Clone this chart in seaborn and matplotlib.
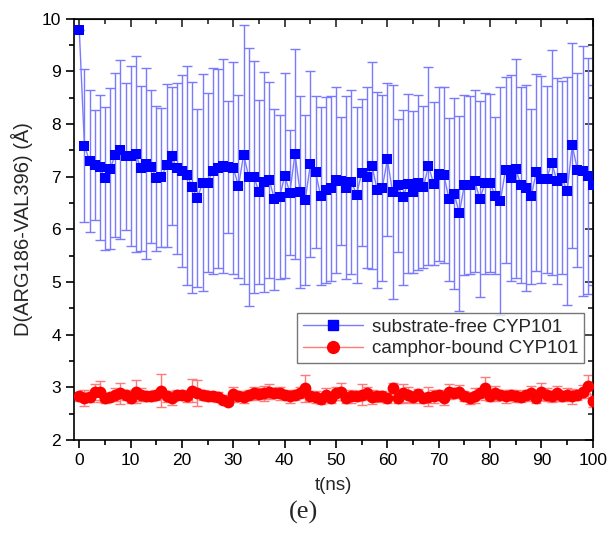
import numpy as np
import pandas as pd
import seaborn as sns
import matplotlib.pyplot as plt
from matplotlib.ticker import MultipleLocator

# time axis (ns), one frame per ns
t_ns = list(range(0, 101))

free_mean = [9.78, 7.59, 7.30, 7.22, 7.18, 6.97, 7.15, 7.42, 7.51, 7.39,
             7.39, 7.43, 7.16, 7.25, 7.19, 6.97, 6.99, 7.22, 7.39, 7.16,
             7.11, 7.03, 6.80, 6.59, 6.89, 6.89, 7.11, 7.16, 7.20, 7.19,
             7.17, 6.82, 7.42, 7.00, 7.00, 6.71, 6.90, 6.94, 6.57, 6.61,
             7.02, 6.70, 7.43, 6.71, 6.56, 7.24, 7.09, 6.64, 6.75, 6.78,
             6.94, 6.92, 6.79, 6.90, 6.66, 7.08, 6.99, 7.21, 6.75, 6.79,
             7.33, 6.71, 6.84, 6.61, 6.87, 6.71, 6.89, 6.80, 7.21, 6.87,
             7.06, 7.04, 6.57, 6.68, 6.31, 6.85, 6.84, 6.92, 6.58, 6.88,
             6.88, 6.64, 6.54, 7.13, 6.98, 7.15, 6.84, 6.79, 6.63, 7.09,
             6.95, 6.95, 7.27, 6.92, 6.98, 6.73, 7.60, 7.13, 7.11, 7.01,
             6.84]
free_err = [0.00, 1.45, 1.35, 1.04, 1.38, 1.36, 1.53, 1.56, 1.70, 1.40,
            1.71, 1.86, 1.57, 1.81, 1.45, 1.37, 1.32, 1.55, 1.31, 1.63,
            1.83, 2.08, 2.00, 1.69, 2.06, 1.70, 1.95, 1.89, 2.03, 1.25,
            2.01, 1.74, 2.46, 2.45, 2.20, 1.74, 2.09, 1.86, 1.72, 1.56,
            1.95, 1.19, 2.00, 1.83, 1.62, 1.77, 1.45, 1.69, 1.76, 1.76,
            1.76, 1.22, 1.74, 1.75, 1.67, 1.39, 1.72, 1.97, 1.86, 1.77,
            1.45, 2.03, 1.26, 1.66, 1.70, 1.54, 1.66, 1.54, 1.88, 1.55,
            1.65, 1.67, 1.54, 1.81, 1.85, 1.71, 1.69, 1.73, 1.86, 1.72,
            1.69, 1.49, 2.16, 1.76, 1.95, 2.08, 1.86, 1.96, 1.66, 1.87,
            1.97, 1.78, 2.14, 1.95, 1.83, 2.17, 1.95, 1.84, 2.37, 2.24,
            1.90]

bound_mean = [2.83, 2.80, 2.82, 2.91, 2.92, 2.80, 2.82, 2.86, 2.89, 2.86,
              2.80, 2.92, 2.86, 2.84, 2.83, 2.86, 2.94, 2.83, 2.80, 2.86,
              2.86, 2.84, 2.94, 2.89, 2.86, 2.84, 2.83, 2.82, 2.77, 2.72,
              2.87, 2.84, 2.82, 2.86, 2.89, 2.88, 2.89, 2.92, 2.89, 2.89,
              2.86, 2.83, 2.86, 2.90, 2.98, 2.84, 2.82, 2.78, 2.86, 2.80,
              2.89, 2.92, 2.80, 2.83, 2.84, 2.86, 2.89, 2.82, 2.83, 2.84,
              2.80, 2.99, 2.80, 2.89, 2.86, 2.82, 2.87, 2.80, 2.82, 2.83,
              2.86, 2.79, 2.92, 2.89, 2.92, 2.84, 2.80, 2.84, 2.89, 2.98,
              2.84, 2.89, 2.86, 2.83, 2.86, 2.84, 2.82, 2.86, 2.89, 2.80,
              2.92, 2.86, 2.83, 2.89, 2.84, 2.86, 2.83, 2.86, 2.92, 3.02,
              2.75]
bound_err = [0.08, 0.15, 0.10, 0.15, 0.20, 0.10, 0.08, 0.12, 0.20, 0.10,
             0.10, 0.22, 0.12, 0.10, 0.08, 0.10, 0.32, 0.10, 0.14, 0.10,
             0.08, 0.12, 0.22, 0.25, 0.10, 0.10, 0.08, 0.10, 0.08, 0.06,
             0.14, 0.10, 0.12, 0.10, 0.12, 0.10, 0.14, 0.14, 0.10, 0.12,
             0.08, 0.12, 0.10, 0.10, 0.26, 0.10, 0.12, 0.10, 0.12, 0.10,
             0.12, 0.16, 0.10, 0.12, 0.10, 0.20, 0.12, 0.14, 0.10, 0.10,
             0.10, 0.10, 0.10, 0.18, 0.14, 0.12, 0.10, 0.10, 0.18, 0.12,
             0.10, 0.12, 0.14, 0.10, 0.12, 0.10, 0.12, 0.14, 0.10, 0.22,
             0.10, 0.14, 0.10, 0.12, 0.10, 0.12, 0.10, 0.10, 0.14, 0.10,
             0.16, 0.12, 0.10, 0.14, 0.10, 0.12, 0.14, 0.10, 0.12, 0.22,
             0.12]

df = pd.DataFrame({"t": t_ns * 2,
                   "D": free_mean + bound_mean,
                   "err": free_err + bound_err,
                   "system": ["substrate-free CYP101"] * len(t_ns) + ["camphor-bound CYP101"] * len(t_ns)})

sns.set_style("ticks")
plt.rcParams['font.family'] = ['Liberation Sans', 'DejaVu Sans']

fig = plt.figure(figsize=(6.08, 5.38), dpi=100)
ax = fig.add_axes([0.122, 0.182, 0.853, 0.783])

colors = {"substrate-free CYP101": "#0000ff", "camphor-bound CYP101": "#ff0000"}
bar_colors = {"substrate-free CYP101": "#7a7aff", "camphor-bound CYP101": "#ff7a7a"}
markers = {"substrate-free CYP101": "s", "camphor-bound CYP101": "o"}
msize = {"substrate-free CYP101": 7, "camphor-bound CYP101": 8.5}

for name in ["substrate-free CYP101", "camphor-bound CYP101"]:
    sub = df[df["system"] == name]
    ax.errorbar(sub["t"], sub["D"], yerr=sub["err"], fmt="none",
                ecolor=bar_colors[name], elinewidth=1, capsize=3.5, capthick=1, zorder=2)
    ax.plot(sub["t"], sub["D"], color=bar_colors[name], lw=1, zorder=3)
    sns.scatterplot(data=sub, x="t", y="D", marker=markers[name], color=colors[name],
                    s=msize[name] ** 2, edgecolor=colors[name], linewidth=0, ax=ax, zorder=4)

# legend handles: line with marker
handles = [plt.Line2D([], [], color=bar_colors[n], lw=1, marker=markers[n], markersize=msize[n],
                      markerfacecolor=colors[n], markeredgecolor=colors[n]) for n in colors]
leg = ax.legend(handles, list(colors), loc="upper left", bbox_to_anchor=(0.43, 0.302),
                fontsize=13.5, frameon=True, fancybox=False, edgecolor="#555555",
                handlelength=3.2, borderpad=0.3, labelspacing=0.25, handletextpad=0.5,
                borderaxespad=0)
leg.get_frame().set_linewidth(1)

ax.set_xlim(-1, 100)
ax.set_ylim(2, 10)
ax.xaxis.set_major_locator(MultipleLocator(10))
ax.xaxis.set_minor_locator(MultipleLocator(5))
ax.yaxis.set_major_locator(MultipleLocator(1))
ax.yaxis.set_minor_locator(MultipleLocator(0.5))
ax.tick_params(which="both", direction="out", labelsize=12.5, width=1.2, colors="black")
ax.tick_params(which="major", length=6)
ax.tick_params(which="minor", length=3.5)
for sp in ax.spines.values():
    sp.set_visible(True)
    sp.set_linewidth(1.2)
    sp.set_color("black")

# mirrored inward ticks on top and right
top = ax.secondary_xaxis("top")
top.xaxis.set_major_locator(MultipleLocator(10))
top.xaxis.set_minor_locator(MultipleLocator(5))
top.tick_params(which="both", direction="in", labeltop=False, width=1.2)
top.tick_params(which="major", length=6)
top.tick_params(which="minor", length=3.5)
right = ax.secondary_yaxis("right")
right.yaxis.set_major_locator(MultipleLocator(1))
right.yaxis.set_minor_locator(MultipleLocator(0.5))
right.tick_params(which="both", direction="in", labelright=False, width=1.2)
right.tick_params(which="major", length=6)
right.tick_params(which="minor", length=3.5)

ax.set_xlabel("t(ns)", fontsize=13.5, labelpad=6)
ax.set_ylabel("D(ARG186-VAL396) (Å)", fontsize=14.5, labelpad=6)
fig.text(0.5, 0.048, "(e)", ha="center", va="center", fontsize=19, family="Liberation Serif")

fig.savefig("out.png", dpi=100)
